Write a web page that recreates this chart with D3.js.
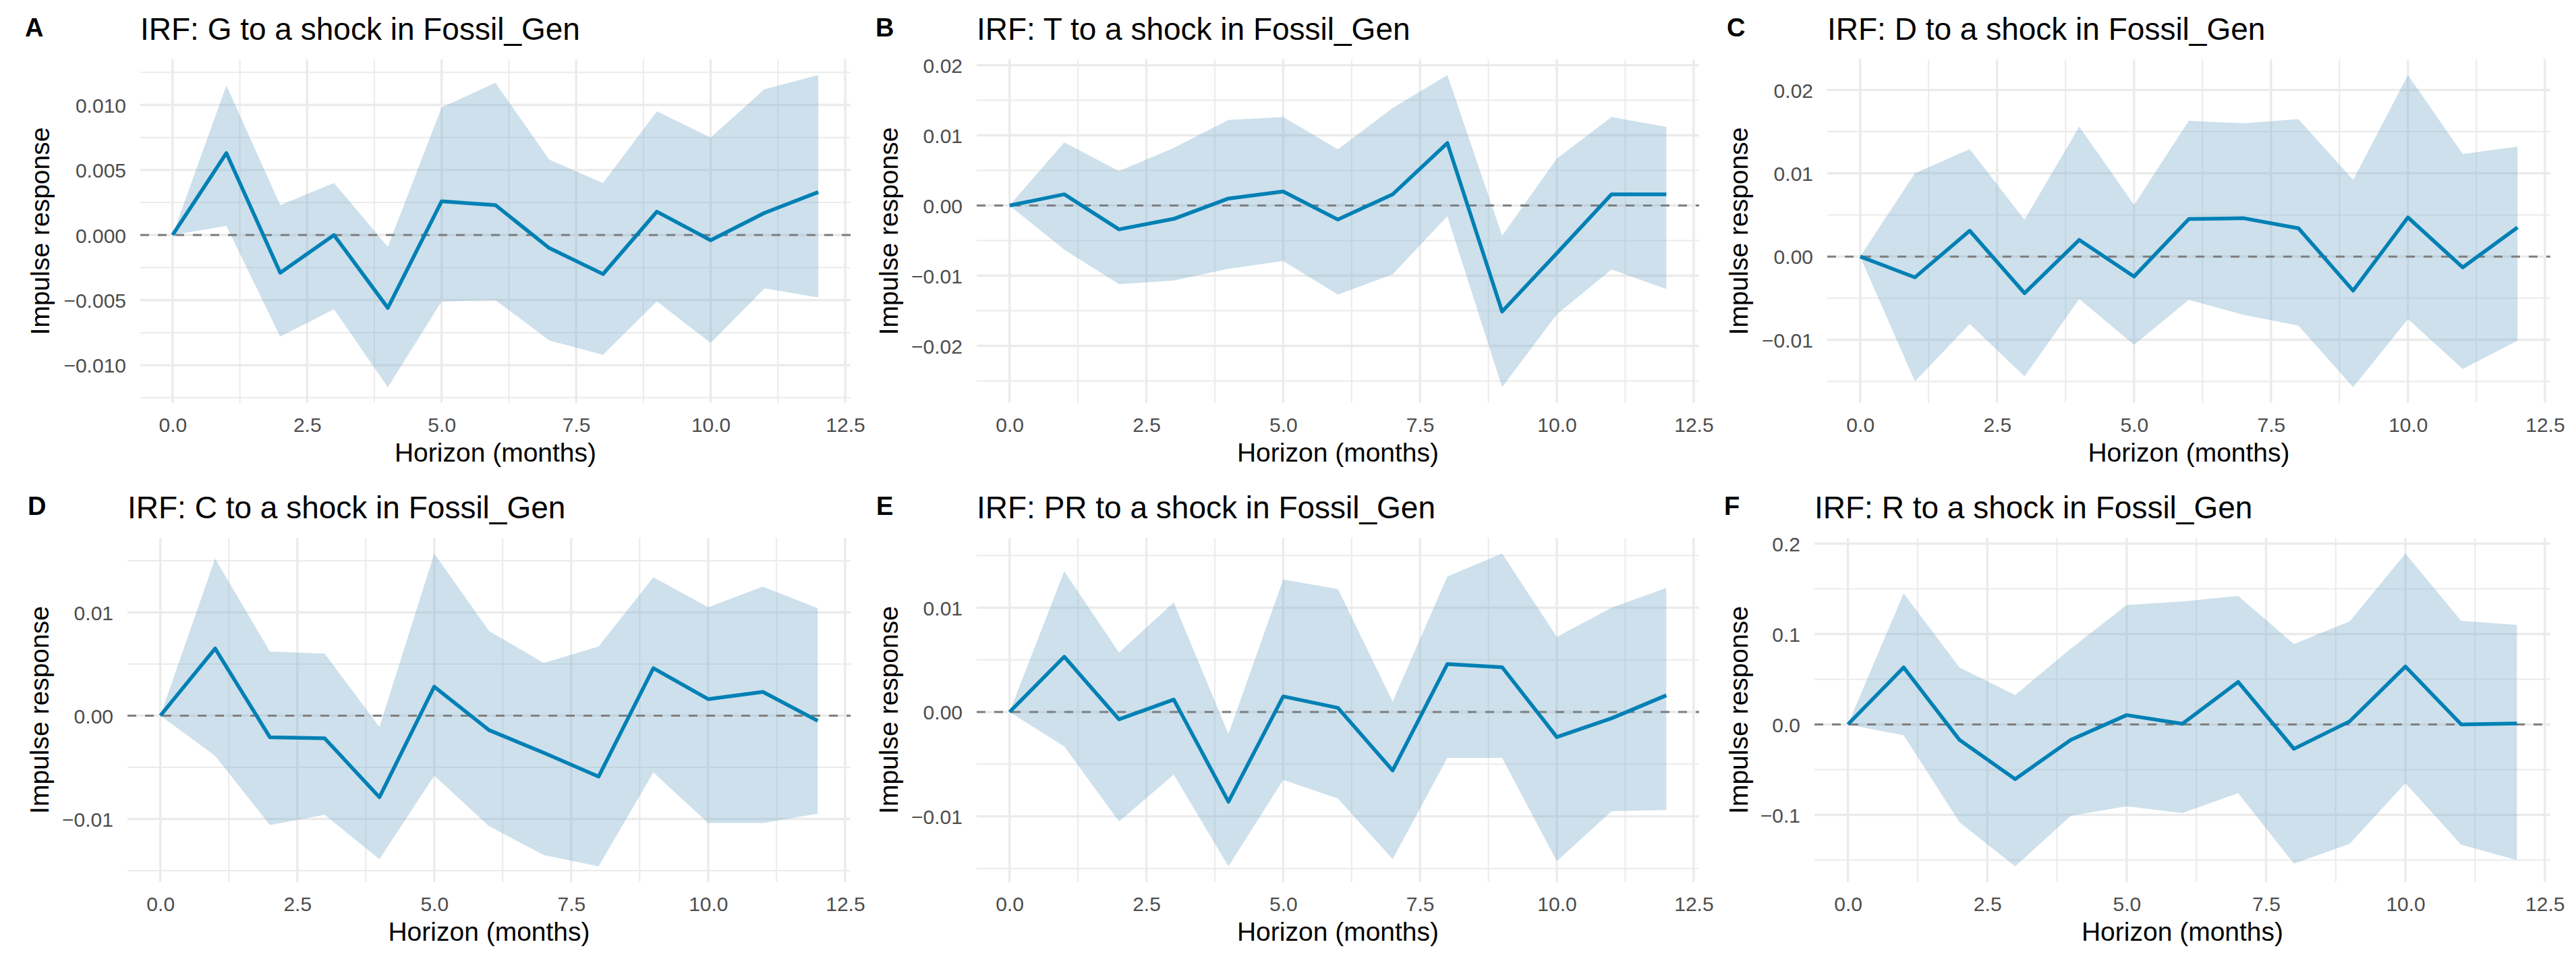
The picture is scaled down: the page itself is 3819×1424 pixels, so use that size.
<!DOCTYPE html>
<html>
<head>
<meta charset="utf-8">
<script src="https://cdn.jsdelivr.net/npm/d3@7"></script>
<style>
  body { margin: 0; background: #fff; }
  text { font-family: "Liberation Sans", Arial, sans-serif; }
</style>
</head>
<body>
<svg id="chart"></svg>
<script>
const width = 3819;
const height = 1424;

const horizon = [0, 1, 2, 3, 4, 5, 6, 7, 8, 9, 10, 11, 12];
const xTicks = [0, 2.5, 5, 7.5, 10, 12.5];
const xTickLabels = ['0.0', '2.5', '5.0', '7.5', '10.0', '12.5'];

// A: G
const irfG = [0, 0.0063, -0.0029, 0.0000, -0.0056, 0.0026, 0.0023, -0.0010, -0.0030, 0.0018, -0.0004, 0.0017, 0.0033];
const lowG = [0, 0.0007, -0.0078, -0.0057, -0.0117, -0.0051, -0.0050, -0.0081, -0.0092, -0.0051, -0.0083, -0.0041, -0.0048];
const upG = [0, 0.0115, 0.0023, 0.0040, -0.0009, 0.0098, 0.0117, 0.0058, 0.0040, 0.0095, 0.0075, 0.0112, 0.0123];
const ticksG = [-0.01, -0.005, 0, 0.005, 0.01];
const labelsG = ['\u22120.010', '\u22120.005', '0.000', '0.005', '0.010'];

// B: T
const irfT = [0, 0.0016, -0.0034, -0.0019, 0.0010, 0.0020, -0.0020, 0.0016, 0.0089, -0.0151, -0.0068, 0.0016, 0.0016];
const lowT = [0, -0.0063, -0.0112, -0.0107, -0.0090, -0.0079, -0.0127, -0.0098, -0.0015, -0.0259, -0.0155, -0.0091, -0.0119];
const upT = [0, 0.0090, 0.0049, 0.0082, 0.0122, 0.0126, 0.0080, 0.0139, 0.0186, -0.0043, 0.0067, 0.0126, 0.0112];
const ticksT = [-0.02, -0.01, 0, 0.01, 0.02];
const labelsT = ['\u22120.02', '\u22120.01', '0.00', '0.01', '0.02'];

// C: D
const irfD = [0, -0.0025, 0.0031, -0.0044, 0.0020, -0.0024, 0.0045, 0.0046, 0.0034, -0.0041, 0.0047, -0.0013, 0.0035];
const lowD = [0, -0.0150, -0.0081, -0.0144, -0.0051, -0.0106, -0.0052, -0.0070, -0.0083, -0.0157, -0.0075, -0.0135, -0.0101];
const upD = [0, 0.0100, 0.0129, 0.0044, 0.0156, 0.0062, 0.0163, 0.0160, 0.0165, 0.0092, 0.0218, 0.0123, 0.0132];
const ticksD = [-0.01, 0, 0.01, 0.02];
const labelsD = ['\u22120.01', '0.00', '0.01', '0.02'];

// D: C
const irfC = [0, 0.0065, -0.0021, -0.0022, -0.0079, 0.0028, -0.0014, -0.0036, -0.0059, 0.0046, 0.0016, 0.0023, -0.0005];
const lowC = [0, -0.0039, -0.0106, -0.0096, -0.0139, -0.0058, -0.0107, -0.0135, -0.0146, -0.0055, -0.0104, -0.0104, -0.0095];
const upC = [0, 0.0152, 0.0062, 0.0060, -0.0011, 0.0157, 0.0082, 0.0051, 0.0067, 0.0134, 0.0105, 0.0125, 0.0104];
const ticksC = [-0.01, 0, 0.01];
const labelsC = ['\u22120.01', '0.00', '0.01'];

// E: PR
const irfPR = [0, 0.0053, -0.0007, 0.0012, -0.0086, 0.0015, 0.0004, -0.0056, 0.0046, 0.0043, -0.0024, -0.0006, 0.0016];
const lowPR = [0, -0.0033, -0.0105, -0.0060, -0.0148, -0.0065, -0.0083, -0.0141, -0.0044, -0.0044, -0.0143, -0.0095, -0.0094];
const upPR = [0, 0.0135, 0.0057, 0.0105, -0.0021, 0.0127, 0.0118, 0.0010, 0.0130, 0.0152, 0.0072, 0.0100, 0.0119];
const ticksPR = [-0.01, 0, 0.01];
const labelsPR = ['\u22120.01', '0.00', '0.01'];

// F: R
const irfR = [0, 0.063, -0.017, -0.0605, -0.017, 0.0103, 0.0007, 0.047, -0.027, 0.0034, 0.064, 0, 0.001];
const lowR = [0, -0.012, -0.108, -0.157, -0.101, -0.0906, -0.098, -0.076, -0.154, -0.132, -0.065, -0.133, -0.150];
const upR = [0, 0.145, 0.063, 0.0325, 0.084, 0.132, 0.136, 0.142, 0.089, 0.114, 0.189, 0.1145, 0.110];
const ticksR = [-0.1, 0, 0.1, 0.2];
const labelsR = ['\u22120.1', '0.0', '0.1', '0.2'];

const panels = [
    { tag: 'A', name: 'G', irf: irfG, low: lowG, up: upG, ticks: ticksG, labels: labelsG },
    { tag: 'B', name: 'T', irf: irfT, low: lowT, up: upT, ticks: ticksT, labels: labelsT },
    { tag: 'C', name: 'D', irf: irfD, low: lowD, up: upD, ticks: ticksD, labels: labelsD },
    { tag: 'D', name: 'C', irf: irfC, low: lowC, up: upC, ticks: ticksC, labels: labelsC },
    { tag: 'E', name: 'PR', irf: irfPR, low: lowPR, up: upPR, ticks: ticksPR, labels: labelsPR },
    { tag: 'F', name: 'R', irf: irfR, low: lowR, up: upR, ticks: ticksR, labels: labelsR }
];

// panel boxes, in page pixels
const boxes = [
    { left: 208, right: 1261, top: 88, bottom: 597, tagX: 37, yTitleX: 73 },
    { left: 1448, right: 2519, top: 88, bottom: 597, tagX: 1298, yTitleX: 1331 },
    { left: 2709, right: 3781, top: 88, bottom: 597, tagX: 2560, yTitleX: 2591 },
    { left: 189, right: 1261, top: 797, bottom: 1307, tagX: 41, yTitleX: 72 },
    { left: 1448, right: 2519, top: 797, bottom: 1307, tagX: 1299, yTitleX: 1331 },
    { left: 2690, right: 3781, top: 797, bottom: 1307, tagX: 2556, yTitleX: 2591 }
];

const gridColor = '#EBEBEB';
const bandColor = 'rgb(124,174,205)';
const lineColor = '#0080B4';

const svg = d3.select('#chart')
    .attr('width', width)
    .attr('height', height)
    .style('background', '#fff');

// ggplot style 5% expansion
const expand = ([a, b]) => {
    const pad = (b - a) * 0.05;
    return [a - pad, b + pad];
};

// minor breaks halfway between majors, one step beyond each end too
const minors = ticks => {
    const step = ticks[1] - ticks[0];
    const ext = [ticks[0] - step, ...ticks, ticks[ticks.length - 1] + step];
    return d3.pairs(ext).map(([a, b]) => (a + b) / 2);
};

panels.forEach((p, i) => {
    const b = boxes[i];
    const g = svg.append('g');

    const data = horizon.map((h, j) => ({ h, irf: p.irf[j], low: p.low[j], up: p.up[j] }));

    const x = d3.scaleLinear()
        .domain(expand(d3.extent(horizon)))
        .range([b.left, b.right]);

    const y = d3.scaleLinear()
        .domain(expand([d3.min([0, ...p.low]), d3.max([0, ...p.up])]))
        .range([b.bottom, b.top]);

    const [x0, x1] = x.domain();
    const [y0, y1] = y.domain();

    // minor grid
    g.selectAll('.xminor')
        .data(minors(xTicks).filter(v => v > x0 && v < x1))
        .enter().append('line')
        .attr('x1', d => x(d)).attr('x2', d => x(d))
        .attr('y1', b.top).attr('y2', b.bottom)
        .attr('stroke', gridColor).attr('stroke-width', 2);

    g.selectAll('.yminor')
        .data(minors(p.ticks).filter(v => v > y0 && v < y1))
        .enter().append('line')
        .attr('x1', b.left).attr('x2', b.right)
        .attr('y1', d => y(d)).attr('y2', d => y(d))
        .attr('stroke', gridColor).attr('stroke-width', 2);

    // major grid
    g.selectAll('.xmajor')
        .data(xTicks.filter(v => v > x0 && v < x1))
        .enter().append('line')
        .attr('x1', d => x(d)).attr('x2', d => x(d))
        .attr('y1', b.top).attr('y2', b.bottom)
        .attr('stroke', gridColor).attr('stroke-width', 3.4);

    g.selectAll('.ymajor')
        .data(p.ticks)
        .enter().append('line')
        .attr('x1', b.left).attr('x2', b.right)
        .attr('y1', d => y(d)).attr('y2', d => y(d))
        .attr('stroke', gridColor).attr('stroke-width', 3.4);

    // confidence band
    g.append('path')
        .datum(data)
        .attr('fill', bandColor)
        .attr('fill-opacity', 0.38)
        .attr('d', d3.area()
            .x(d => x(d.h))
            .y0(d => y(d.low))
            .y1(d => y(d.up)));

    // zero line
    g.append('line')
        .attr('x1', b.left).attr('x2', b.right)
        .attr('y1', y(0)).attr('y2', y(0))
        .attr('stroke', '#7F7F7F')
        .attr('stroke-width', 3)
        .attr('stroke-dasharray', '13,13');

    // response
    g.append('path')
        .datum(data)
        .attr('fill', 'none')
        .attr('stroke', lineColor)
        .attr('stroke-width', 5.5)
        .attr('stroke-linejoin', 'round')
        .attr('d', d3.line().x(d => x(d.h)).y(d => y(d.irf)));

    // axes: labels only, theme_minimal has no axis lines
    const xAxis = g.append('g')
        .attr('transform', `translate(0, ${b.bottom + 43})`)
        .call(d3.axisBottom(x).tickValues(xTicks).tickFormat((d, k) => xTickLabels[k]).tickSize(0).tickPadding(0));
    xAxis.select('.domain').remove();
    xAxis.selectAll('text')
        .attr('dy', 0)
        .attr('fill', '#4D4D4D')
        .style('font-size', '30px')
        .style('font-family', '"Liberation Sans", Arial, sans-serif');

    const yAxis = g.append('g')
        .attr('transform', `translate(${b.left - 21}, 0)`)
        .call(d3.axisLeft(y).tickValues(p.ticks).tickFormat((d, k) => p.labels[k]).tickSize(0).tickPadding(0));
    yAxis.select('.domain').remove();
    yAxis.selectAll('text')
        .attr('dy', '0.36em')
        .attr('fill', '#4D4D4D')
        .style('font-size', '30px')
        .style('font-family', '"Liberation Sans", Arial, sans-serif');

    // titles
    g.append('text')
        .attr('x', b.left)
        .attr('y', b.top - 29)
        .style('font-size', '46px')
        .text(`IRF: ${p.name} to a shock in Fossil_Gen`);

    g.append('text')
        .attr('x', b.tagX)
        .attr('y', b.top - 34)
        .style('font-size', '38px')
        .style('font-weight', 'bold')
        .text(p.tag);

    g.append('text')
        .attr('x', (b.left + b.right) / 2)
        .attr('y', b.bottom + 87)
        .attr('text-anchor', 'middle')
        .style('font-size', '39px')
        .text('Horizon (months)');

    g.append('text')
        .attr('transform', `translate(${b.yTitleX}, ${(b.top + b.bottom) / 2}) rotate(-90)`)
        .attr('text-anchor', 'middle')
        .style('font-size', '39px')
        .text('Impulse response');
});
</script>
</body>
</html>
